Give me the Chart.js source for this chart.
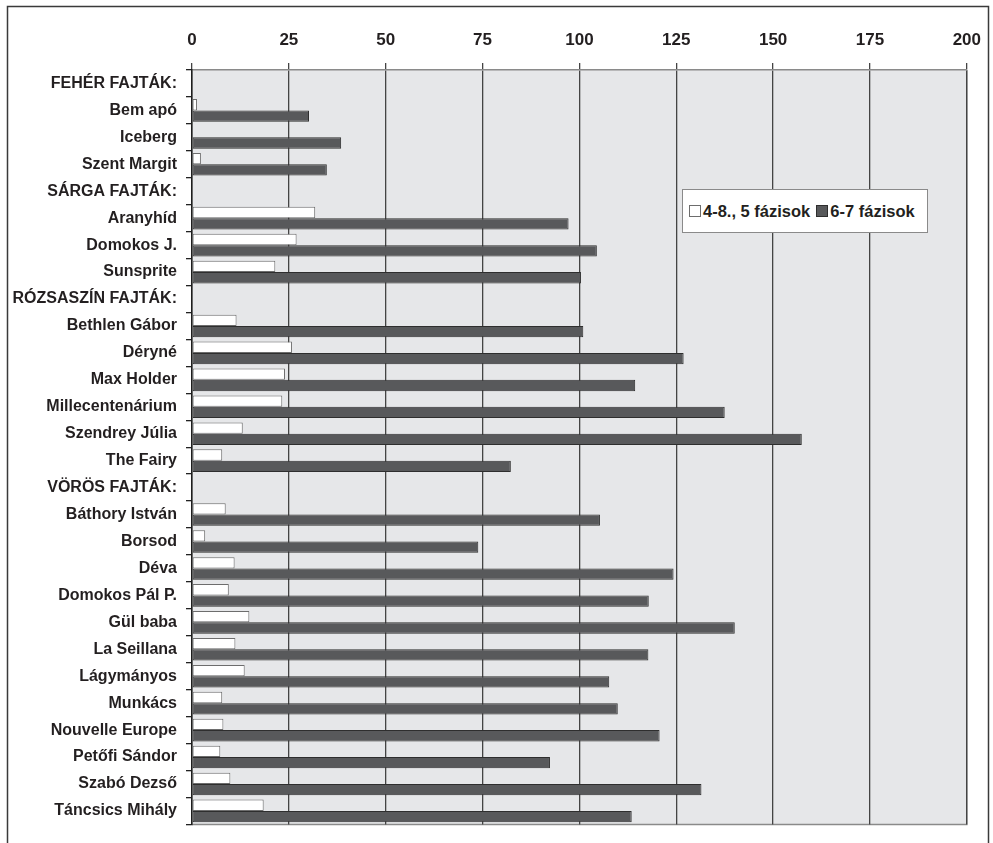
<!DOCTYPE html>
<html lang="hu">
<head>
<meta charset="utf-8">
<title>Fajták – fázisok</title>
<script src="https://cdn.jsdelivr.net/npm/chart.js@4/dist/chart.umd.min.js"></script>
<style>
  html, body { margin: 0; padding: 0; background: #ffffff; }
  #wrap { position: relative; width: 993px; height: 843px; }
  #chart { display: block; }
  #legend {
    position: absolute; left: 682px; top: 189px; width: 246px; height: 44px;
    box-sizing: border-box; border: 1px solid #8a8a8a; background: #ffffff;
    display: flex; align-items: center; padding-left: 6px;
    font: bold 16.5px "Liberation Sans", Arial, sans-serif; color: #231f20;
    white-space: nowrap;
  }
  #legend .item { display: flex; align-items: center; margin-right: 6px; }
  #legend .box { width: 12px; height: 12px; box-sizing: border-box; margin-right: 2px; }
</style>
</head>
<body>
<div id="wrap">
  <canvas id="chart" width="993" height="843"></canvas>
  <div id="legend"></div>
</div>
<script>
// Rose varieties grouped by colour; group headings carry no bars.
const categories = [
  'FEHÉR FAJTÁK:', 'Bem apó', 'Iceberg', 'Szent Margit',
  'SÁRGA FAJTÁK:', 'Aranyhíd', 'Domokos J.', 'Sunsprite',
  'RÓZSASZÍN FAJTÁK:', 'Bethlen Gábor', 'Déryné', 'Max Holder', 'Millecentenárium', 'Szendrey Júlia', 'The Fairy',
  'VÖRÖS FAJTÁK:', 'Báthory István', 'Borsod', 'Déva', 'Domokos Pál P.', 'Gül baba', 'La Seillana',
  'Lágymányos', 'Munkács', 'Nouvelle Europe', 'Petőfi Sándor', 'Szabó Dezső', 'Táncsics Mihály'
];

const seriesNames = ['4-8., 5 fázisok', '6-7 fázisok'];

const phases4to8 = [
  null, 1.3, null, 2.3,
  null, 31.8, 27.0, 21.5,
  null, 11.5, 25.8, 24.0, 23.3, 13.1, 7.8,
  null, 8.7, 3.4, 11.0, 9.5, 14.8, 11.2,
  13.6, 7.8, 8.1, 7.3, 9.9, 18.5
];

const phases6to7 = [
  null, 30.2, 38.5, 34.8,
  null, 97.2, 104.5, 100.4,
  null, 101.0, 126.9, 114.4, 137.5, 157.4, 82.3,
  null, 105.3, 73.9, 124.3, 117.9, 140.1, 117.8,
  107.7, 109.9, 120.7, 92.4, 131.5, 113.5
];

const axisMin = 0;
const axisMax = 200;
const axisStep = 25;

const FONT = '"Liberation Sans", Arial, sans-serif';
Chart.defaults.font.family = FONT;
Chart.defaults.font.size = 16;
Chart.defaults.font.weight = 'bold';
Chart.defaults.color = '#231f20';

// Page frame, plot background and plot outline.
const framePlugin = {
  id: 'frame',
  beforeDraw(chart) {
    const { ctx, chartArea: a } = chart;
    ctx.save();
    ctx.fillStyle = '#ffffff';
    ctx.fillRect(0, 0, chart.width, chart.height);
    ctx.strokeStyle = '#3a3a3a';
    ctx.lineWidth = 1.5;
    ctx.strokeRect(7.5, 6.5, 981, 900);
    ctx.fillStyle = '#e6e7e9';
    ctx.fillRect(a.left, a.top, a.right - a.left, a.bottom - a.top);
    ctx.strokeStyle = '#8a8a8a';
    ctx.lineWidth = 1.5;
    ctx.beginPath();
    ctx.moveTo(a.left, a.bottom);
    ctx.lineTo(a.right, a.bottom);
    ctx.lineTo(a.right, a.top);
    ctx.stroke();
    ctx.restore();
  }
};

const chart = new Chart(document.getElementById('chart'), {
  type: 'bar',
  data: {
    labels: categories,
    datasets: [
      {
        label: seriesNames[0],
        data: phases4to8,
        backgroundColor: '#ffffff',
        borderColor: '#6d6d6d',
        borderWidth: 1,
        borderSkipped: false,
        categoryPercentage: 0.84,
        barPercentage: 1.0
      },
      {
        label: seriesNames[1],
        data: phases6to7,
        backgroundColor: '#58595b',
        borderColor: '#2e2e2e',
        borderWidth: 1,
        borderSkipped: false,
        categoryPercentage: 0.84,
        barPercentage: 1.0
      }
    ]
  },
  options: {
    indexAxis: 'y',
    responsive: false,
    animation: false,
    layout: { padding: { left: 0, top: 0, right: 25, bottom: 16 } },
    plugins: {
      legend: { display: false },
      tooltip: { enabled: false }
    },
    scales: {
      x: {
        position: 'top',
        min: axisMin,
        max: axisMax,
        afterFit(scale) { scale.height = 70; },
        ticks: { stepSize: axisStep, padding: 12, font: { size: 17, weight: 'bold' }, color: '#231f20' },
        grid: { color: '#444444', lineWidth: 1.3, tickLength: 7, drawOnChartArea: true },
        border: { display: true, color: '#8a8a8a', width: 1.5 }
      },
      y: {
        afterFit(scale) { scale.width = 192; },
        ticks: { padding: 9, font: { size: 16, weight: 'bold' }, color: '#231f20', autoSkip: false },
        grid: { offset: true, drawOnChartArea: false, color: '#222222', lineWidth: 1.3, tickLength: 6 },
        border: { display: true, color: '#1e1e1e', width: 1.5 }
      }
    }
  },
  plugins: [framePlugin]
});

// Legend built from the dataset styles.
const legendEl = document.getElementById('legend');
chart.data.datasets.forEach(ds => {
  const item = document.createElement('span');
  item.className = 'item';
  const box = document.createElement('span');
  box.className = 'box';
  box.style.background = ds.backgroundColor;
  box.style.border = '1px solid ' + ds.borderColor;
  const txt = document.createElement('span');
  txt.textContent = ds.label;
  item.appendChild(box);
  item.appendChild(txt);
  legendEl.appendChild(item);
});
</script>
</body>
</html>
